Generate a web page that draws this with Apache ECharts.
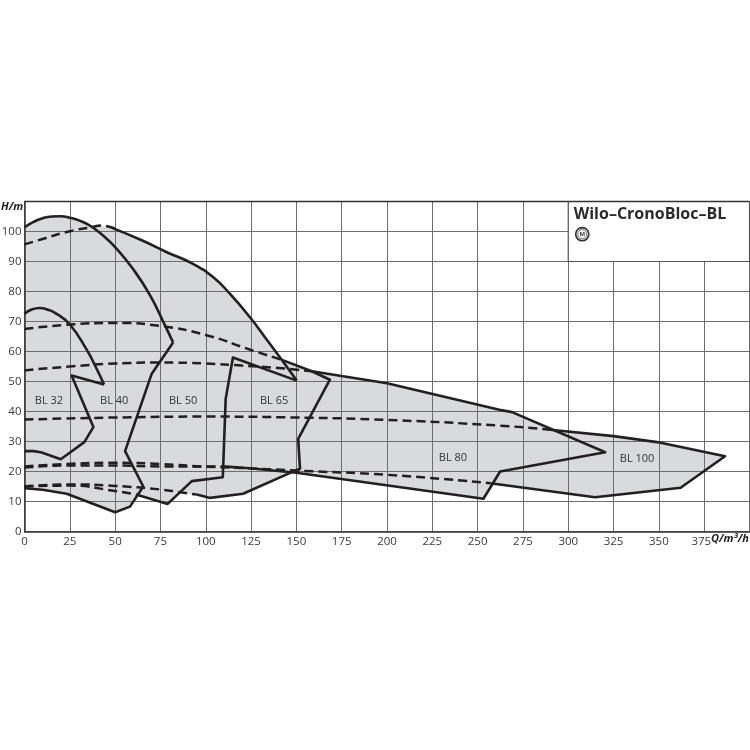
<!DOCTYPE html>
<html><head><meta charset="utf-8">
<style>html,body{margin:0;padding:0;background:#fff}#c{width:750px;height:750px}</style>
<script src="https://cdn.jsdelivr.net/npm/echarts@6/dist/echarts.min.js"></script>
</head><body><div id="c"></div>
<script>
const xTicks = [0,25,50,75,100,125,150,175,200,225,250,275,300,325,350,375];
const yTicks = [0,10,20,30,40,50,60,70,80,90,100];
const title = 'Wilo–CronoBloc–BL';
const xName = 'Q/m³/h';
const yName = 'H/m';
const familyLabels = [['BL 32',13.5,43.7],['BL 40',49.5,43.7],['BL 50',87.5,43.7],['BL 65',137.7,43.7],['BL 80',236.4,24.7],['BL 100',338,24.3]];
const envelope = [[0,101.4],[5,103.2],[10,104.4],[15,105],[20,105.1],[25,104.6],[30,103.7],[36,102.2],[42,102],[50.8,100.8],[65,97],[78.5,93.1],[93,89.2],[104,84.8],[113.4,79.2],[124.4,71.4],[133.7,63.9],[142,57.2],[158.5,53.4],[200,49.4],[262,40.6],[269,39.8],[290,33.9],[325,31.8],[349,29.8],[386.5,25.1],[362,14.6],[314.8,11.4],[257,16.1],[253.2,10.9],[150,19.6],[147.5,19.8],[120.6,12.6],[102.4,11.2],[85.8,13.1],[79,9.2],[62.5,12.2],[58.2,8.3],[50,6.4],[23.3,12.6],[10,13.9],[0,14.4]];

const bl32Curve = [[0,72.6],[4,74],[8.5,74.5],[12,74.1],[16.8,72.9],[25,69],[34.3,60.6],[40,54],[43.9,49]];
const bl32Edge = [[43.9,49],[26,52],[38,34.8],[33,29.8],[20,24.1],[13,25.6],[9,26.4],[5,26.8],[0,26.8]];
const bl40Curve = [[0,101.4],[5,103.2],[10,104.4],[15,105],[20,105.1],[25,104.6],[30,103.7],[36,102],[43,98.8],[50,94.8],[60,87.4],[69.3,78.7],[77.5,68.7],[82,63]];
const bl40Edge = [[82,63],[70.2,52.6],[55.5,26.8],[65.5,15],[58.2,8.3],[50,6.4],[23.3,12.6],[10,13.9],[0,14.4]];
const bl50Curve = [[48,101.3],[65,97],[78.5,93.1],[93,89.2],[104,84.8],[113.4,79.2],[124.4,71.4],[133.7,63.9],[142,57.2],[150.2,50.3]];
const bl50Edge = [[62.5,12.2],[79,9.2],[92.3,16.8],[109.4,18.1],[111,44.2],[115,58],[150.2,50.3]];
const bl65Edge = [[95,12.3],[102.4,11.2],[120.6,12.6],[147.5,19.8],[152,20.9],[151,30.9],[168.5,50.6],[158.5,53.4],[142,57.2]];
const bl80Upper = [[158.5,53.4],[200,49.4],[262,40.6],[269,39.8],[320.4,26.4],[262.4,20],[253.2,10.9],[150,19.6],[124.4,21.1],[109,21.7]];
const bl100Edge = [[290,33.9],[325,31.8],[349,29.8],[386.5,25.1],[362,14.6],[314.8,11.4],[257,16.1]];

const dashTop = [[0,95.7],[10,97.5],[25,100.1],[37,101.4],[42,102],[50.8,100.8]];
const dash70 = [[0,67.5],[25,69],[50,69.5],[75,68.5],[100,65.5],[125,60.5],[142,57.2]];
const dash55 = [[0,53.7],[25,55],[50,56],[75,56.3],[100,56],[120,55.3],[140,54.5],[158.5,53.4]];
const dash38 = [[0,37.3],[50,38],[100,38.3],[150,38],[200,37.2],[262,35.3],[290,33.9]];
const dash22a = [[0,21.7],[23,22.5],[50,22.9],[75,22.5],[100,21.6],[119,21.2],[150,20.3],[200,18.9],[257,16.1]];
const dash22b = [[0,21.3],[25,22],[50,22],[75,21.7],[109,21.7]];
const dash15a = [[0,15],[25,15.7],[50,15.2],[75,14],[85.8,13.1],[95,12.3]];
const dash15b = [[0,15],[25,15.3],[50,13.5],[62.5,12.2]];

const INK = '#231f20';
const solid = (data, smooth) => ({type:'line',data,smooth:smooth?0.5:false,symbol:'none',z:6,silent:true,clip:false,
  lineStyle:{color:INK,width:2.6,join:'round'}});
const dashed = (data) => ({type:'line',data,smooth:0.5,symbol:'none',z:5,silent:true,
  lineStyle:{color:INK,width:2.5,type:[9,5]}});

const chart = echarts.init(document.getElementById('c'),null,{renderer:'canvas'});
chart.setOption({
  animation:false,
  backgroundColor:'#fff',
  grid:{left:24.5,right:0.5,top:201.5,bottom:218.5,containLabel:false,outerBoundsMode:'none'},
  xAxis:{type:'value',min:0,max:400,interval:25,z:3,
    axisLine:{show:true,onZero:false,lineStyle:{color:'#333',width:1.5}},axisTick:{show:false},
    splitLine:{show:true,lineStyle:{color:'#6e6e6e',width:1}},
    axisLabel:{color:'#3a3a3a',fontFamily:'Open Sans',fontSize:11.5,margin:4,showMinLabel:true,showMaxLabel:true,
      formatter:v=>xTicks.includes(v)?(v===375?v+'\u2002':String(v)):''}},
  yAxis:{type:'value',min:0,max:110,interval:10,z:3,
    axisLine:{show:true,onZero:false,lineStyle:{color:'#333',width:1.5}},axisTick:{show:false},
    splitLine:{show:true,lineStyle:{color:'#6e6e6e',width:1}},
    axisLabel:{color:'#3a3a3a',fontFamily:'Open Sans',fontSize:11.5,margin:3,showMinLabel:true,showMaxLabel:true,
      formatter:v=>yTicks.includes(v)?String(v):''}},
  series:[
    {type:'custom',z:1,silent:true,coordinateSystem:'cartesian2d',data:[0],clip:false,
      renderItem:(p,api)=>({type:'polygon',shape:{points:envelope.map(d=>api.coord(d))},style:{fill:'#d9dadc'}})},
    {type:'custom',z:4,silent:true,coordinateSystem:'cartesian2d',data:[0],clip:false,
      renderItem:(p,api)=>{
        const a=api.coord([300,110]),b=api.coord([400,90]),f=api.coord([0,110]);
        return {type:'group',children:[
          {type:'rect',shape:{x:a[0],y:a[1],width:b[0]-a[0],height:b[1]-a[1]},style:{fill:'#fff',stroke:'#555',lineWidth:1.2}},
          {type:'line',shape:{x1:f[0],y1:f[1],x2:b[0],y2:f[1]},style:{stroke:'#333',lineWidth:1.5}},
          {type:'text',x:a[0]+5.5,y:a[1]+12.5,style:{text:title,fill:'#2a2a2a',font:'bold 16px "Open Sans"',textVerticalAlign:'middle'}},
          {type:'circle',shape:{cx:a[0]+14,cy:a[1]+32.7,r:6.6},style:{fill:'#e4e4e4',stroke:'#333',lineWidth:1.6}},
          {type:'circle',shape:{cx:a[0]+14,cy:a[1]+32.7,r:4.5},style:{fill:'#fff',stroke:'#777',lineWidth:1}},
          {type:'text',x:a[0]+14,y:a[1]+32.9,style:{text:'M',fill:'#333',font:'bold 6px "Open Sans"',textAlign:'center',textVerticalAlign:'middle'}}
        ]};
      }},
    {type:'custom',z:7,silent:true,coordinateSystem:'cartesian2d',data:familyLabels.map(l=>[l[1],l[2]]),
      renderItem:(p,api)=>{
        const c=api.coord([api.value(0),api.value(1)]);
        return {type:'text',x:c[0],y:c[1],style:{text:familyLabels[p.dataIndex][0],fill:'#333',font:'11px "Open Sans"',textAlign:'center',textVerticalAlign:'middle'}};
      }},
    solid(bl32Curve,true),solid(bl32Edge),solid(bl40Curve,true),solid(bl40Edge),
    solid(bl50Curve,true),solid(bl50Edge),solid(bl65Edge),solid(bl80Upper),solid(bl100Edge),
    dashed(dashTop),dashed(dash70),dashed(dash55),dashed(dash38),dashed(dash22a),dashed(dash22b),dashed(dash15a),dashed(dash15b)
  ],
  graphic:[
    {type:'text',left:1,top:201,z:10,style:{text:yName,fill:'#222',font:'italic bold 11px "Open Sans"'}},
    {type:'text',right:1,top:533,z:10,style:{text:xName,fill:'#222',font:'italic bold 11px "Open Sans"'}}
  ]
});
</script></body></html>
